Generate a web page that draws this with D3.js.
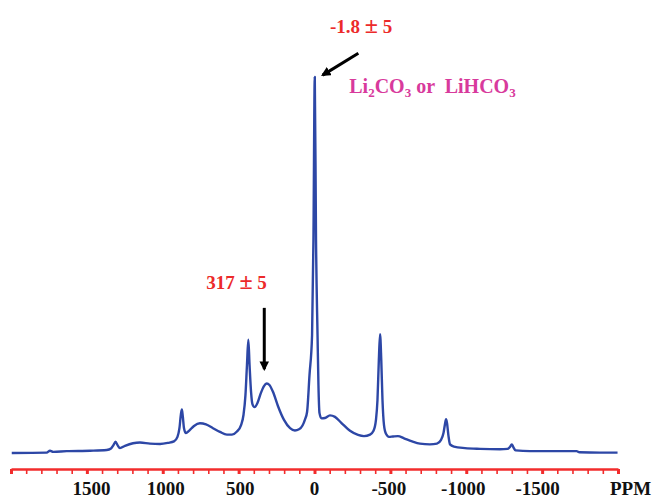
<!DOCTYPE html>
<html>
<head>
<meta charset="utf-8">
<script src="https://cdn.jsdelivr.net/npm/d3@7"></script>
<style>
  body { margin: 0; background: #fff; }
  svg text { font-family: "Times New Roman", "Liberation Serif", serif; font-weight: bold; }
</style>
</head>
<body>
<div id="chart"></div>
<script>
// chemical shift (ppm) and intensity
var ppm = [1995, 1765, 1743, 1721, 1633, 1479, 1369, 1341, 1325, 1311, 1298, 1282, 1249, 1196, 1150, 1084,
  1018, 965, 926, 903, 890, 880, 874, 868, 860, 847, 827, 794, 755, 715, 669, 623, 577, 544, 511, 484,
  468, 455, 445, 436, 428, 418, 409, 395, 376, 353, 333, 315, 297, 273, 241, 201, 161, 129, 102, 79,
  63, 49, 33, 16, 7, -1.8, -10, -20, -26, -33, -46, -69, -102, -135, -175, -234, -287, -326, -366, -389,
  -405, -415, -424, -432, -440, -448, -458, -471, -491, -517, -550, -590, -643, -695, -761, -807, -834,
  -850, -860, -867, -873, -883, -893, -919, -992, -1091, -1222, -1272, -1288, -1300, -1311, -1325, -1420,
  -1585, -1727, -1746, -1881, -1997];
var intensity = [0, 0.1, 0.6, 0.3, 0.5, 0.6, 0.8, 1.2, 2.1, 3.0, 2.1, 1.3, 1.9, 2.6, 2.8, 2.5,
  2.4, 2.7, 3.1, 4.3, 6.6, 10.4, 11.6, 9.8, 6.6, 5.3, 5.9, 7.2, 7.9, 7.6, 6.6, 5.6, 4.9, 4.9, 5.7, 7.4,
  10.1, 15.4, 23.4, 30.1, 23.4, 16.2, 13.0, 12.2, 13.3, 16.0, 17.8, 18.5, 18.1, 16.2, 12.5, 8.8, 6.6, 6.0, 6.3, 7.3,
  8.9, 10.9, 20.7, 31.4, 56.6, 100, 56.6, 31.4, 18.1, 10.6, 9.2, 9.3, 10.0, 9.6, 8.1, 5.9, 4.8, 4.5, 4.9, 5.9,
  8.8, 14.1, 24.7, 31.6, 24.7, 14.1, 7.4, 5.1, 4.3, 4.4, 4.5, 3.9, 3.1, 2.5, 2.3, 2.5, 3.5,
  5.3, 7.7, 9.0, 8.0, 4.5, 2.3, 1.7, 1.3, 1.1, 1.0, 1.1, 1.6, 2.3, 1.5, 0.7, 0.5,
  0.5, 0.5, 0.2, 0.1, 0.1];

var tickValues = d3.range(-2000, 2001, 100);
var labelValues = [1500, 1000, 500, 0, -500, -1000, -1500];
var labelText = ["1500", "1000", "500", "0", "-500", "-1000", "-1500"];

var width = 652, height = 498;

var svg = d3.select('#chart').append('svg')
            .attr('width', width)
            .attr('height', height);

var x = d3.scaleLinear().domain([2000, -2000]).range([11, 618]);
var xLabel = d3.scaleLinear().domain([2000, -2000]).range([17, 612]);
var y = d3.scaleLinear().domain([0, 100]).range([453, 77]);

// arrow heads
var defs = svg.append('defs');
defs.append('marker')
    .attr('id', 'head')
    .attr('viewBox', '0 0 10 10')
    .attr('refX', 8).attr('refY', 5)
    .attr('markerWidth', 3.2).attr('markerHeight', 3.2)
    .attr('orient', 'auto')
  .append('path')
    .attr('d', 'M0,0 L10,5 L0,10 z')
    .attr('fill', '#000');

// spectrum
var pts = ppm.map((p, i) => [p, intensity[i]]);
var line = d3.line()
    .x(d => x(d[0]))
    .y(d => y(d[1]))
    .curve(d3.curveMonotoneX);

svg.append('path')
   .datum(pts)
   .attr('d', line)
   .attr('fill', 'none')
   .attr('stroke', '#2d47a6')
   .attr('stroke-width', 2.4)
   .attr('stroke-linejoin', 'round');

// ppm axis
var axis = d3.axisBottom(x)
    .tickValues(tickValues)
    .tickSize(5)
    .tickSizeOuter(0)
    .tickFormat('');

var gAxis = svg.append('g')
   .attr('transform', 'translate(0,469)')
   .call(axis);
gAxis.select('.domain').attr('stroke', '#f22c2c').attr('stroke-width', 2.6);
gAxis.selectAll('.tick line')
     .attr('stroke', '#f22c2c')
     .attr('stroke-width', d => d % 500 === 0 ? 3 : 1.6);

svg.selectAll('.xlab')
   .data(labelValues)
   .enter().append('text')
   .attr('class', 'xlab')
   .attr('x', d => xLabel(d))
   .attr('y', 495)
   .attr('text-anchor', 'middle')
   .attr('font-size', 19)
   .attr('fill', '#111')
   .text((d, i) => labelText[i]);

svg.append('text')
   .attr('x', 610).attr('y', 495)
   .attr('font-size', 19)
   .attr('fill', '#111')
   .text('PPM');

// annotations
var t1 = svg.append('text')
   .attr('x', x(-102)).attr('y', y(111.8))
   .attr('font-size', 19)
   .attr('fill', '#ec2a2a');
t1.append('tspan').text('-1.8 ');
t1.append('tspan').attr('font-size', 24).text('\u00b1');
t1.append('tspan').text(' 5');

svg.append('line')
   .attr('x1', x(-289)).attr('y1', y(106.3))
   .attr('x2', x(-54)).attr('y2', y(100.5))
   .attr('stroke', '#000').attr('stroke-width', 3)
   .attr('marker-end', 'url(#head)');

var lab = svg.append('text')
   .attr('x', x(-229)).attr('y', y(95.8))
   .attr('font-size', 20)
   .attr('fill', '#d83a9c');
lab.append('tspan').text('Li');
lab.append('tspan').attr('dy', 4).attr('font-size', 13).text('2');
lab.append('tspan').attr('dy', -4).text('CO');
lab.append('tspan').attr('dy', 4).attr('font-size', 13).text('3');
lab.append('tspan').attr('dy', -4).text(' or \u00a0LiHCO');
lab.append('tspan').attr('dy', 4).attr('font-size', 13).text('3');

var t2 = svg.append('text')
   .attr('x', x(514)).attr('y', y(43.6))
   .attr('text-anchor', 'middle')
   .attr('font-size', 19)
   .attr('fill', '#ec2a2a');
t2.append('tspan').text('317 ');
t2.append('tspan').attr('font-size', 24).text('\u00b1');
t2.append('tspan').text(' 5');

svg.append('line')
   .attr('x1', x(331)).attr('y1', y(38.6))
   .attr('x2', x(331)).attr('y2', y(22.3))
   .attr('stroke', '#000').attr('stroke-width', 3)
   .attr('marker-end', 'url(#head)');
</script>
</body>
</html>
